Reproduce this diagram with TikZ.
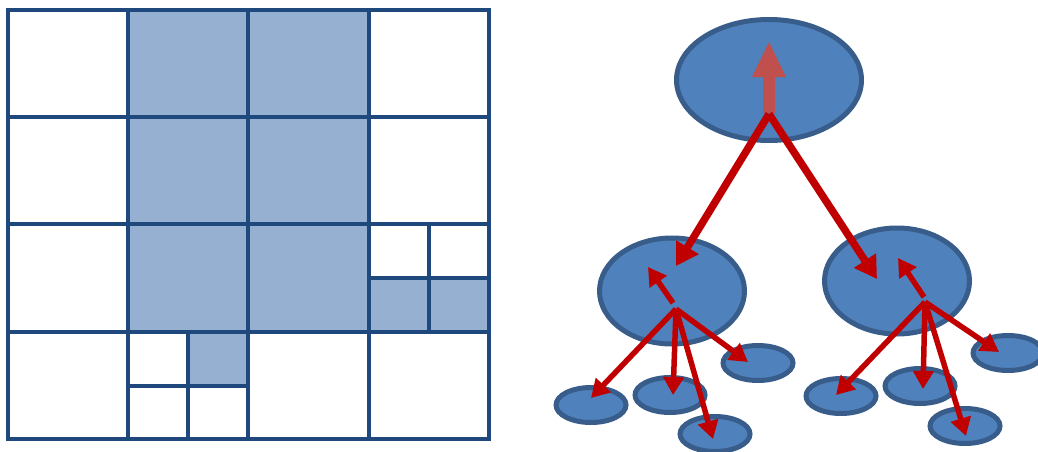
\documentclass[tikz,border=0pt]{standalone}
\usetikzlibrary{shapes.geometric,arrows.meta}
\definecolor{gridline}{RGB}{31,73,125}
\definecolor{gridfill}{RGB}{149,176,209}
\definecolor{ellfill}{RGB}{79,129,189}
\definecolor{elldraw}{RGB}{56,93,138}
\definecolor{arrred}{RGB}{192,0,0}
\definecolor{uparrow}{RGB}{192,80,77}
\tikzset{
  gridlines/.style={draw=gridline,line width=3.2pt},
  shaded/.style={fill=gridfill},
  ell/.style={ellipse,draw=elldraw,fill=ellfill,line width=5pt,inner sep=0pt},
  bigell/.style={ell,minimum width=185pt,minimum height=121pt},
  midell/.style={ell,minimum width=145pt,minimum height=106pt},
  smallell/.style={ell,minimum width=70pt,minimum height=35pt},
  mainarrow/.style={draw=arrred,line width=7.5pt,-{Triangle[length=22pt,width=25pt]}},
  childarrow/.style={draw=arrred,line width=5.5pt,-{Triangle[length=18pt,width=20pt]}},
}
\begin{document}
\begin{tikzpicture}[x=1pt,y=-1pt]
\useasboundingbox (0,0) rectangle (1038,452);
% ---------- grid ----------
\fill[shaded] (128,10) rectangle (369,332);
\fill[shaded] (369,278) rectangle (489,332);
\fill[shaded] (188,332) rectangle (248,386);
\draw[gridlines] (8,10) rectangle (489,439);
\foreach \x in {128,248,369} \draw[gridlines] (\x,10) -- (\x,439);
\foreach \y in {117,224,332} \draw[gridlines] (8,\y) -- (489,\y);
\draw[gridlines] (429,224) -- (429,332);
\draw[gridlines] (369,278) -- (489,278);
\draw[gridlines] (188,332) -- (188,439);
\draw[gridlines] (128,386) -- (248,386);
% ---------- tree ----------
\begin{scope}
\clip (0,0) rectangle (1038,452);
\node[bigell] (root) at (769,80) {};
\node[midell] (lm) at (672,291) {};
\node[midell] (rm) at (897,281) {};
\node[smallell] (l1) at (591,405) {};
\node[smallell] (l2) at (670,395) {};
\node[smallell] (l3) at (715,434) {};
\node[smallell] (l4) at (758,363) {};
\node[smallell] (r1) at (841,396) {};
\node[smallell] (r2) at (920,386) {};
\node[smallell] (r3) at (965,426) {};
\node[smallell] (r4) at (1008,353) {};
\end{scope}
% up arrow in root
\fill[uparrow] (763,113) -- (763,77) -- (752,77) -- (769,42) -- (786,77) -- (775,77) -- (775,113) -- cycle;
% origins and tips
\coordinate (ro) at (769,114);
\coordinate (lmtip) at (676,266);
\coordinate (rmtip) at (877,279);
\coordinate (lo) at (676,309);
\coordinate (lup0) at (673,303);
\coordinate (lup) at (648,267);
\coordinate (l1t) at (591,398);
\coordinate (l2t) at (673,395);
\coordinate (l3t) at (713,439);
\coordinate (l4t) at (748,362);
\coordinate (rO) at (925,302);
\coordinate (rup0) at (924,297);
\coordinate (rup) at (898,258);
\coordinate (r1t) at (836,395);
\coordinate (r2t) at (923,389);
\coordinate (r3t) at (966,436);
\coordinate (r4t) at (999,352);
\draw[mainarrow] (ro) -- (lmtip);
\draw[mainarrow] (ro) -- (rmtip);
\draw[childarrow] (lup0) -- (lup);
\draw[childarrow] (lo) -- (l1t);
\draw[childarrow] (lo) -- (l2t);
\draw[childarrow] (lo) -- (l3t);
\draw[childarrow] (lo) -- (l4t);
\draw[childarrow] (rup0) -- (rup);
\draw[childarrow] (rO) -- (r1t);
\draw[childarrow] (rO) -- (r2t);
\draw[childarrow] (rO) -- (r3t);
\draw[childarrow] (rO) -- (r4t);
\end{tikzpicture}
\end{document}
